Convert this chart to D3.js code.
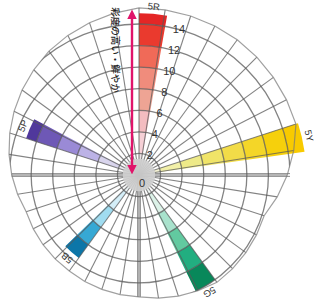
<!DOCTYPE html>
<html><head><meta charset="utf-8">
<script src="https://cdn.jsdelivr.net/npm/d3@7"></script>
<style>body{margin:0;background:#fff}svg{display:block}</style>
</head><body><svg id="c" width="325" height="299"></svg>
<script>
// ---- data ----
const hues = ["5R", "5Y", "5G", "5B", "5P"];
const maxChroma = [15, 15.5, 12, 9.5, 11];
const chromaTicks = [0, 2, 4, 6, 8, 10, 12, 14];
const axisLabel = "彩度の高い・鮮やか";
const redSteps = ["#eee4e6", "#f6d0d6", "#f4bcc0", "#eea494", "#f08c7c", "#f06a58", "#ea3a2e", "#e42626"];
const yellowSteps = ["#f4f2d4", "#f2f0a8", "#eeea88", "#f0e468", "#f2dc48", "#f4d628", "#f6d00c", "#f8ca00"];
const greenSteps = ["#eef4f2", "#dcf2e8", "#a8e2cc", "#62caa0", "#22ae80", "#08885a"];
const blueSteps = ["#eef4f6", "#d4eef8", "#a0dcf0", "#36a8d4", "#0c76a8"];
const purpleSteps = ["#eceaf0", "#d8d4ec", "#bcb2e6", "#9a8ad6", "#6e58b6", "#50389c"];
const stepColors = [redSteps, yellowSteps, greenSteps, blueSteps, purpleSteps];
const gridExtent = [15.5, 15.5, 15.3, 12.2, 12.3, 11.3, 11, 11, 12.6, 14.2];

// ---- layout ----
const cx = 139, cy = 175;
const r = d3.scaleLinear().domain([0, 14]).range([0, 151]);
const hueAngle = d3.scaleLinear().domain([0, hues.length]).range([0, 2 * Math.PI]);
const wedgeWidth = Math.PI / 18;
const svg = d3.select("#c");
const g = svg.append("g").attr("transform", `translate(${cx},${cy})`);
const pt = (a, c) => [r(c) * Math.sin(a), -r(c) * Math.cos(a)];

// grid
const nSpokes = 40;
const spokeAngles = d3.range(nSpokes).map(i => i * 2 * Math.PI / nSpokes);
const n = gridExtent.length;
const extentAt = a => {
  const t = a / (2 * Math.PI) * n, i = Math.floor(t) % n, j = (i + 1) % n, f = t - Math.floor(t);
  return gridExtent[i] * (1 - f) + gridExtent[j] * f;
};
const boundary = spokeAngles.map(a => pt(a, extentAt(a)));
const defs = svg.append("defs");
defs.append("clipPath").attr("id", "gclip")
  .append("polygon").attr("points", boundary.map(p => p.join(",")).join(" "));
defs.append("marker").attr("id", "ah").attr("viewBox", "0 0 10 10")
  .attr("refX", 5).attr("refY", 5).attr("markerWidth", 4).attr("markerHeight", 4)
  .attr("orient", "auto-start-reverse")
  .append("path").attr("d", "M0,0L10,5L0,10z").attr("fill", "#e0146a");

// wedges
hues.forEach((h, i) => {
  const a0 = hueAngle(i), a1 = a0 + wedgeWidth;
  stepColors[i].forEach((col, k) => {
    const c0 = 2 * k, c1 = Math.min(2 * k + 2, maxChroma[i]);
    if (c0 >= maxChroma[i]) return;
    g.append("path")
      .attr("d", d3.arc()({innerRadius: r(c0), outerRadius: r(c1), startAngle: a0, endAngle: a1}))
      .attr("fill", col);
  });
});

// heavy axis lines
[Math.PI / 2, Math.PI, 3 * Math.PI / 2].forEach(a => {
  const e = pt(a, a === Math.PI / 2 ? 14 : extentAt(a));
  g.append("line").attr("x1", 0).attr("y1", 0).attr("x2", e[0]).attr("y2", e[1])
    .attr("stroke", "#999").attr("stroke-width", 4);
  g.append("line").attr("x1", 0).attr("y1", 0).attr("x2", e[0]).attr("y2", e[1])
    .attr("stroke", "#eee").attr("stroke-width", 2);
});

const grid = g.append("g").attr("clip-path", "url(#gclip)")
  .attr("fill", "none").attr("stroke", "#5a5a5a").attr("stroke-opacity", 0.75);
d3.range(2, 16, 2).forEach(c => grid.append("circle").attr("r", r(c)).attr("stroke-width", 1.3));
spokeAngles.forEach(a => {
  const e = pt(a, extentAt(a));
  grid.append("line").attr("x1", 0).attr("y1", 0).attr("x2", e[0]).attr("y2", e[1]).attr("stroke-width", 1.1);
});
g.append("polygon").attr("points", boundary.map(p => p.join(",")).join(" "))
  .attr("fill", "none").attr("stroke", "#777").attr("stroke-opacity", 0.7).attr("stroke-width", 1.2);

// center disc
g.append("circle").attr("r", r(1.5)).attr("fill", "#cfcfcf").attr("opacity", 0.92);

// arrow
g.append("line").attr("x1", -7).attr("y1", -r(0.5)).attr("x2", -7).attr("y2", -r(14.9))
  .attr("stroke", "#e0146a").attr("stroke-width", 2.4)
  .attr("marker-start", "url(#ah)").attr("marker-end", "url(#ah)");
svg.append("text").attr("transform", "translate(116,50) rotate(90)")
  .attr("text-anchor", "middle").attr("dominant-baseline", "central")
  .attr("font-family", "Noto Sans CJK JP").attr("font-size", 9.5).attr("font-weight", 500)
  .attr("fill", "#222").text(axisLabel);

// chroma ticks
const ta = 13 * Math.PI / 180;
chromaTicks.forEach(c => {
  const x = c === 0 ? 3 : r(c) * Math.sin(ta) + 6;
  const y = c === 0 ? 8 : -r(c) * Math.cos(ta) + 1;
  g.append("text").attr("x", x).attr("y", y).attr("text-anchor", "middle")
    .attr("dominant-baseline", "central").attr("font-family", "Liberation Sans")
    .attr("font-size", 11).attr("fill", "#333").text(c);
});

// hue labels
hues.forEach((h, i) => {
  const a = hueAngle(i) + wedgeWidth / 2;
  const p = pt(a, maxChroma[i] + 0.7);
  g.append("text").attr("transform", `translate(${p[0]},${p[1]}) rotate(${a * 180 / Math.PI})`)
    .attr("text-anchor", "middle").attr("dominant-baseline", "central")
    .attr("font-family", "Liberation Sans").attr("font-size", 9.5).attr("fill", "#333").text(h);
});
</script></body></html>
